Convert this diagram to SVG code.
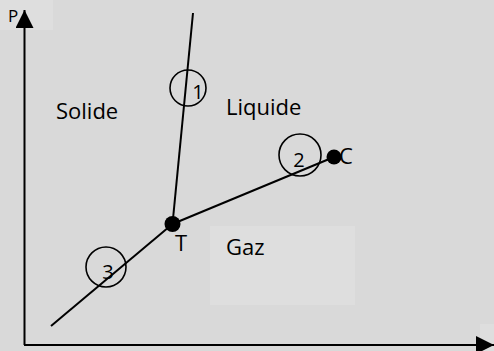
<svg xmlns="http://www.w3.org/2000/svg" width="494" height="351" viewBox="0 0 494 351">
<style>
.lbl{font-family:"Open Sans","Liberation Sans",sans-serif;fill:#000;font-size:22px}
.sm{font-family:"Open Sans","Liberation Sans",sans-serif;fill:#000;font-size:17px}
.num{font-family:"Open Sans","Liberation Sans",sans-serif;fill:#000;font-size:20px;text-anchor:middle}
.ln{stroke:#000;stroke-width:2;fill:none}
.ring{stroke:#000;stroke-width:1.6;fill:none}
.pale{fill:#dedede}
</style>
<defs>
<marker id="ahb" viewBox="0 0 10 10" refX="10" refY="5" markerWidth="18" markerHeight="18" markerUnits="userSpaceOnUse" orient="auto">
<path d="M0,0 L10,5 L0,10 z" fill="#000"/>
</marker>
</defs>
<rect width="494" height="351" fill="#d9d9d9"/>
<rect class="pale" x="0" y="0" width="53" height="30"/>
<rect class="pale" x="210" y="226" width="145" height="79"/>
<rect class="pale" x="480" y="324" width="14" height="27"/>
<g id="axes">
<line class="ln" x1="24.5" y1="345" x2="24.5" y2="10" marker-end="url(#ahb)"/>
<line class="ln" x1="24" y1="345" x2="494" y2="345" marker-end="url(#ahb)"/>
<text x="8" y="22" class="sm">P</text>
</g>
<g id="connectors">
<line class="ln" x1="172.5" y1="224" x2="193" y2="13"/>
<line class="ln" x1="172.5" y1="224" x2="334" y2="157"/>
<line class="ln" x1="51" y1="326" x2="172.5" y2="224"/>
</g>
<g id="ring1"><circle class="ring" cx="188" cy="88" r="18"/><text class="num" x="198" y="99">1</text></g>
<g id="ring2"><circle class="ring" cx="300" cy="155" r="21"/><text class="num" x="299" y="167">2</text></g>
<g id="ring3"><circle class="ring" cx="106" cy="267" r="20"/><text class="num" x="108" y="279">3</text></g>
<g id="T"><circle cx="172.5" cy="224" r="8" fill="#000"/><text class="lbl" x="175" y="251">T</text></g>
<g id="C"><circle cx="334" cy="157" r="7.5" fill="#000"/><text class="lbl" x="339" y="164">C</text></g>
<g id="solide"><text class="lbl" x="56" y="119">Solide</text></g>
<g id="liquide"><text class="lbl" x="226" y="115">Liquide</text></g>
<g id="gaz"><text class="lbl" x="226" y="255">Gaz</text></g>
</svg>
